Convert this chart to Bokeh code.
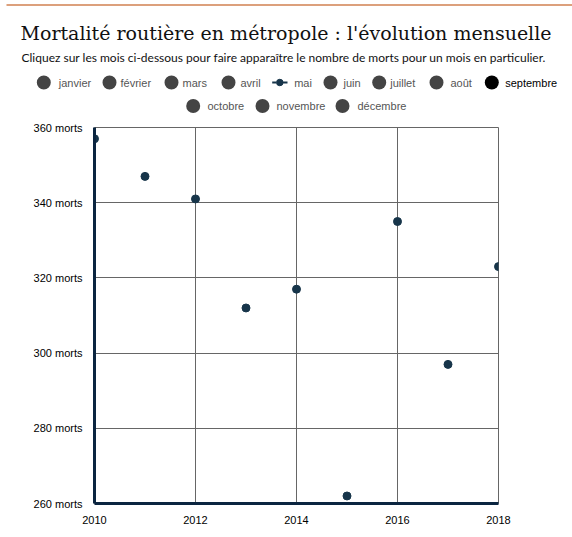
from bokeh.plotting import figure
from bokeh.models import Range1d, FixedTicker
from bokeh.core.properties import value
from bokeh.embed import file_html
from bokeh.resources import INLINE

# ---- data ----
years = [2010, 2011, 2012, 2013, 2014, 2015, 2016, 2017, 2018]
deaths_mai = [357, 347, 341, 312, 317, 262, 335, 297, 323]
x_ticks = [2010, 2012, 2014, 2016, 2018]
y_ticks = [260, 280, 300, 320, 340, 360]
y_tick_labels = ["260 morts", "280 morts", "300 morts", "320 morts", "340 morts", "360 morts"]
months_row1 = ["janvier", "février", "mars", "avril", "mai", "juin", "juillet", "août", "septembre"]
months_row2 = ["octobre", "novembre", "décembre"]
title = "Mortalité routière en métropole : l'évolution mensuelle"
subtitle = "Cliquez sur les mois ci-dessous pour faire apparaître le nombre de morts pour un mois en particulier."

# ---- layout (page pixel positions) ----
W, H = 572, 537
HEAD_H = 119
FX0, FX1, FY0, FY1 = 94, 498, 127, 503   # plot frame on the page
row1_circle_x = [43.3, 109, 171, 228, None, 330, 378.7, 436, 491.3]
row1_text_x = [58.3, 120, 182, 240, 293.7, 343, 389.7, 450, 504.7]
row2_circle_x = [192.7, 262, 342]
row2_text_x = [207, 276, 357]
row1_y, row2_y = 82, 105.5

NAVY = "#17354a"
GRAY_DOT = "#444444"
GRAY_TXT = "#555555"

# ---- header figure (data units == page pixels) ----
top = figure(width=W, height=HEAD_H, x_range=Range1d(0, W), y_range=Range1d(HEAD_H, 0),
             output_backend="svg", toolbar_location=None, min_border=0,
             x_axis_location=None, y_axis_location=None)
top.grid.visible = False
top.outline_line_color = None

top.segment(x0=[6], y0=[4.5], x1=[W], y1=[4.5], line_color="#d08050", line_width=1.5)
top.text(x=[20], y=[32], text=[title], text_font=value("DejaVu Serif"),
         text_font_size="19px", text_color="#111111", text_baseline="alphabetic")
top.text(x=[21], y=[57], text=[subtitle], text_font=value("Lato"),
         text_font_size="12px", text_color="#111111", text_baseline="alphabetic")

cx, cy, ccol = [], [], []
tx, ty, ttxt, tcol = [], [], [], []
for m, c, t in zip(months_row1, row1_circle_x, row1_text_x):
    sel = (m == "septembre")
    if c is not None:
        cx.append(c); cy.append(row1_y); ccol.append("#000000" if sel else GRAY_DOT)
    tx.append(t); ty.append(row1_y); ttxt.append(m); tcol.append("#000000" if sel else GRAY_TXT)
for m, c, t in zip(months_row2, row2_circle_x, row2_text_x):
    cx.append(c); cy.append(row2_y); ccol.append(GRAY_DOT)
    tx.append(t); ty.append(row2_y); ttxt.append(m); tcol.append(GRAY_TXT)

top.scatter(x=cx, y=cy, size=14, color=ccol, line_color=None)
top.text(x=tx, y=ty, text=ttxt, text_color=tcol, text_font=value("Liberation Sans"),
         text_font_size="11px", text_baseline="middle")
# "mai" line-and-dot marker
top.segment(x0=[271.7, 282.5], y0=[row1_y, row1_y], x1=[276, 287], y1=[row1_y, row1_y],
            line_color=NAVY, line_width=2)
top.scatter(x=[279.3], y=[row1_y], size=6.5, color=NAVY)

# ---- main chart ----
MH = H - HEAD_H
p = figure(width=W, height=MH, x_range=Range1d(2010, 2018), y_range=Range1d(260, 360),
           output_backend="svg", toolbar_location=None,
           min_border_left=FX0, min_border_right=W - FX1,
           min_border_top=FY0 - HEAD_H, min_border_bottom=H - FY1)
p.xaxis.ticker = FixedTicker(ticks=x_ticks)
p.yaxis.ticker = FixedTicker(ticks=y_ticks)
p.yaxis.major_label_overrides = {v: s for v, s in zip(y_ticks, y_tick_labels)}
for ax in (p.xaxis[0], p.yaxis[0]):
    ax.axis_line_color = "#0b2540"
    ax.axis_line_width = 3
    ax.major_tick_line_color = None
    ax.minor_tick_line_color = None
    ax.major_label_text_font = "Liberation Sans"
    ax.major_label_text_font_size = "11px"
    ax.major_label_text_color = "#000000"
    ax.major_label_standoff = 6
p.grid.grid_line_color = "#666666"
p.grid.grid_line_width = 1
p.outline_line_color = "#666666"
p.outline_line_width = 1

p.scatter(x=years, y=deaths_mai, size=8, color=NAVY)

open("out.html", "w").write(file_html([top, p], INLINE))
